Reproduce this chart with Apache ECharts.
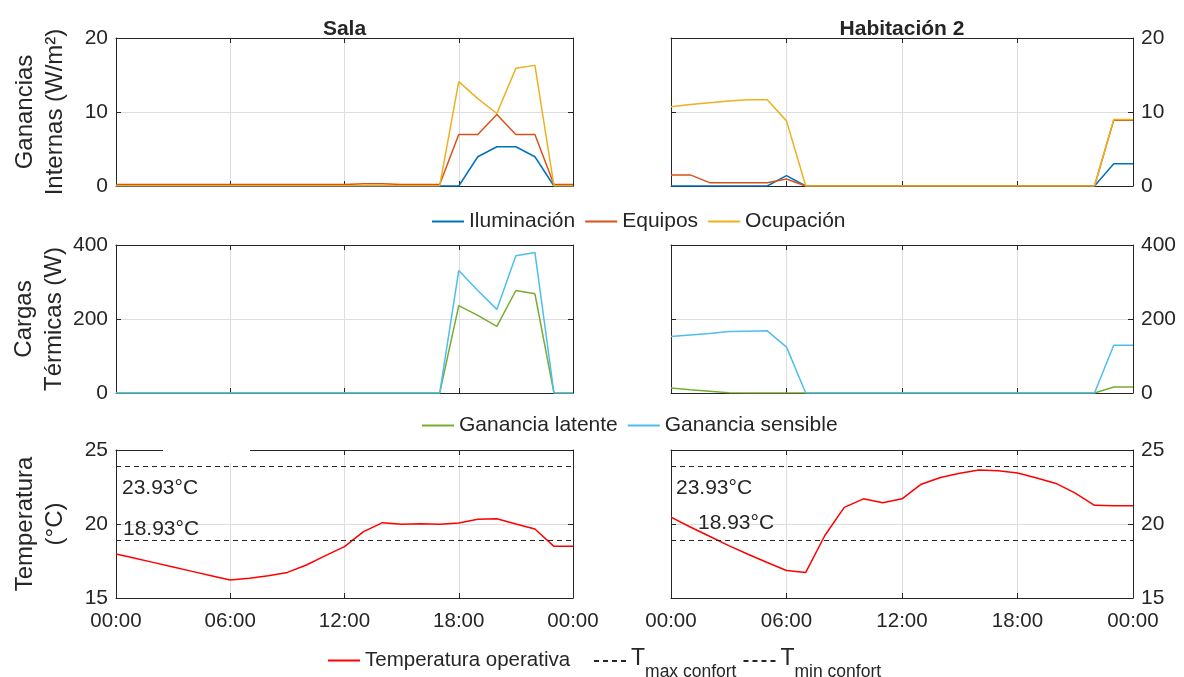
<!DOCTYPE html>
<html>
<head>
<meta charset="utf-8">
<script src="https://cdn.jsdelivr.net/npm/echarts@6/dist/echarts.min.js"></script>
<style>
html, body { margin: 0; padding: 0; background: #fff; }
#main { width: 1184px; height: 677px; }
</style>
</head>
<body>
<div id="main"></div>
<script>
// horas del día (0..24)
var hours = [0, 1, 2, 3, 4, 5, 6, 7, 8, 9, 10, 11, 12, 13, 14, 15, 16, 17, 18, 19, 20, 21, 22, 23, 24];
var hourTicks = ['00:00', '06:00', '12:00', '18:00', '00:00'];

// Sala - ganancias internas (W/m2)
var salaIlum = [0, 0, 0, 0, 0, 0, 0, 0, 0, 0, 0, 0, 0, 0, 0, 0, 0, 0, 0, 3.95, 5.3, 5.3, 3.95, 0, 0];
var salaEquipos = [0.2, 0.2, 0.2, 0.2, 0.2, 0.2, 0.2, 0.2, 0.2, 0.2, 0.2, 0.2, 0.2, 0.3, 0.3, 0.2, 0.2, 0.2, 6.95, 6.95, 9.65, 6.95, 6.95, 0.2, 0.2];
var salaOcup = [0.05, 0.05, 0.05, 0.05, 0.05, 0.05, 0.05, 0.05, 0.05, 0.05, 0.05, 0.05, 0.05, 0.05, 0.05, 0.05, 0.05, 0.05, 14.1, 11.8, 9.8, 15.9, 16.3, 0.05, 0.05];
// Habitación 2 - ganancias internas
var habIlum = [0, 0, 0, 0, 0, 0, 1.4, 0, 0, 0, 0, 0, 0, 0, 0, 0, 0, 0, 0, 0, 0, 0, 0, 3.0, 3.0];
var habEquipos = [1.5, 1.5, 0.45, 0.45, 0.45, 0.45, 0.95, 0, 0, 0, 0, 0, 0, 0, 0, 0, 0, 0, 0, 0, 0, 0, 0, 8.9, 8.9];
var habOcup = [10.7, 11.0, 11.25, 11.5, 11.65, 11.65, 8.8, 0, 0, 0, 0, 0, 0, 0, 0, 0, 0, 0, 0, 0, 0, 0, 0, 9.0, 9.0];

// cargas térmicas (W)
var salaLatente = [0, 0, 0, 0, 0, 0, 0, 0, 0, 0, 0, 0, 0, 0, 0, 0, 0, 0, 236, 210, 180, 277, 268, 0, 0];
var salaSensible = [0, 0, 0, 0, 0, 0, 0, 0, 0, 0, 0, 0, 0, 0, 0, 0, 0, 0, 331, 277, 226, 371, 380, 0, 0];
var habLatente = [13.5, 9, 5, 1, 0, 0, 0, 0, 0, 0, 0, 0, 0, 0, 0, 0, 0, 0, 0, 0, 0, 0, 0, 16, 16];
var habSensible = [153, 157, 161, 166, 167, 168, 124, 0, 0, 0, 0, 0, 0, 0, 0, 0, 0, 0, 0, 0, 0, 0, 0, 129, 129];

// temperatura operativa (°C)
var salaTemp = [17.97, 17.68, 17.39, 17.1, 16.8, 16.51, 16.22, 16.33, 16.5, 16.73, 17.23, 17.86, 18.47, 19.48, 20.09, 19.98, 20.02, 19.98, 20.07, 20.32, 20.36, 20.0, 19.66, 18.49, 18.49];
var habTemp = [20.47, 19.8, 19.17, 18.54, 17.96, 17.4, 16.86, 16.73, 19.24, 21.12, 21.7, 21.43, 21.7, 22.69, 23.14, 23.43, 23.65, 23.59, 23.45, 23.11, 22.74, 22.09, 21.26, 21.23, 21.23];

var tMax = 23.93;
var tMin = 18.93;

var chart = echarts.init(document.getElementById('main'));
var font = '"Liberation Sans", Arial, sans-serif';
var ink = '#262626';
var colors = {
    ilum: '#0072BD', equipos: '#D95319', ocup: '#EDB120',
    latente: '#77AC30', sensible: '#4DBEEE', temp: '#FF0000'
};

function pairs(vals) {
    return hours.map(function (h, i) { return [h, vals[i]]; });
}

var cols = [{ left: 116, width: 457, title: 'Sala' }, { left: 671, width: 462, title: 'Habitación 2' }];
var rows = [
    { top: 38, min: 0, max: 20, step: 10, name: 'Ganancias\nInternas (W/m²)' },
    { top: 245, min: 0, max: 400, step: 200, name: 'Cargas\nTérmicas (W)' },
    { top: 450, min: 15, max: 25, step: 5, name: 'Temperatura\n(°C)' }
];

var grid = [], xAxis = [], yAxis = [];
rows.forEach(function (r, ri) {
    cols.forEach(function (c, ci) {
        var g = grid.length;
        grid.push({ left: c.left, top: r.top, width: c.width, height: 148 });
        xAxis.push({
            gridIndex: g, type: 'value', min: 0, max: 24, interval: 6,
            axisLine: { show: true, onZero: false, lineStyle: { color: ink } },
            axisTick: { inside: true, length: 5, lineStyle: { color: ink } },
            axisLabel: {
                show: ri === 2, fontSize: 20.5, color: ink, fontFamily: font, margin: 13,
                formatter: function (v) { return hourTicks[v / 6]; }
            },
            splitLine: { show: true, lineStyle: { color: '#dedede' } }
        });
        xAxis.push({
            gridIndex: g, type: 'value', min: 0, max: 24, interval: 6, position: 'top',
            axisLine: { show: true, onZero: false, lineStyle: { color: ink } },
            axisTick: { inside: true, length: 5, lineStyle: { color: ink } },
            axisLabel: { show: false }, splitLine: { show: false },
            name: ri === 0 ? c.title : '', nameLocation: 'middle', nameGap: -2,
            nameTextStyle: { fontSize: 21, fontWeight: 'bold', color: ink, fontFamily: font }
        });
        yAxis.push({
            gridIndex: g, type: 'value', min: r.min, max: r.max, interval: r.step,
            position: ci === 0 ? 'left' : 'right',
            axisLine: { show: true, onZero: false, lineStyle: { color: ink } },
            axisTick: { inside: true, length: 5, lineStyle: { color: ink } },
            axisLabel: { fontSize: 21, color: ink, fontFamily: font, margin: 8 },
            splitLine: { show: true, lineStyle: { color: '#dedede' } },
            name: ci === 0 ? r.name : '', nameLocation: 'middle', nameGap: 46,
            nameTextStyle: { fontSize: 24, lineHeight: 30, color: ink, fontFamily: font }
        });
        yAxis.push({
            gridIndex: g, type: 'value', min: r.min, max: r.max, interval: r.step,
            position: ci === 0 ? 'right' : 'left',
            axisLine: { show: true, onZero: false, lineStyle: { color: ink } },
            axisTick: { inside: true, length: 5, lineStyle: { color: ink } },
            axisLabel: { show: false }, splitLine: { show: false }
        });
    });
});

function line(name, g, vals, color) {
    return {
        name: name, type: 'line', xAxisIndex: 2 * g, yAxisIndex: 2 * g,
        data: pairs(vals), symbol: 'none', silent: true,
        lineStyle: { color: color, width: 1.5 }, itemStyle: { color: color }
    };
}

var dash = [5, 4];
function limit(name, g, value, label) {
    return {
        name: name, type: 'line', xAxisIndex: 2 * g, yAxisIndex: 2 * g,
        data: [], symbol: 'none', silent: true,
        lineStyle: { color: ink, width: 1, type: dash }, itemStyle: { color: ink },
        markLine: {
            symbol: ['none', 'none'], silent: true, animation: false,
            lineStyle: { color: ink, width: 1, type: dash },
            label: Object.assign({
                show: true, color: ink, fontSize: 21, fontFamily: font,
                formatter: value.toFixed(2) + '°C'
            }, label),
            data: [{ yAxis: value }]
        }
    };
}

var series = [
    line('Iluminación', 0, salaIlum, colors.ilum),
    line('Equipos', 0, salaEquipos, colors.equipos),
    line('Ocupación', 0, salaOcup, colors.ocup),
    line('Iluminación', 1, habIlum, colors.ilum),
    line('Equipos', 1, habEquipos, colors.equipos),
    line('Ocupación', 1, habOcup, colors.ocup),
    line('Ganancia latente', 2, salaLatente, colors.latente),
    line('Ganancia sensible', 2, salaSensible, colors.sensible),
    line('Ganancia latente', 3, habLatente, colors.latente),
    line('Ganancia sensible', 3, habSensible, colors.sensible),
    line('Temperatura operativa', 4, salaTemp, colors.temp),
    line('Temperatura operativa', 5, habTemp, colors.temp),
    limit('Tmax confort', 4, tMax, { position: 'insideStartBottom', distance: [6, 12] }),
    limit('Tmin confort', 4, tMin, { position: 'insideStartTop', distance: [7, 0] }),
    limit('Tmax confort', 5, tMax, { position: 'insideStartBottom', distance: [5, 12] }),
    limit('Tmin confort', 5, tMin, { position: 'insideStartTop', distance: [27, 6] })
];

var legendText = { fontSize: 21, color: ink, fontFamily: font };
var legendBase = { itemWidth: 32, itemHeight: 14, itemStyle: { opacity: 0 }, textStyle: legendText };
var option = {
    animation: false,
    textStyle: { fontFamily: font },
    grid: grid,
    xAxis: xAxis,
    yAxis: yAxis,
    legend: [
        Object.assign({ data: ['Iluminación', 'Equipos', 'Ocupación'], left: 426, top: 206, itemGap: 9 }, legendBase),
        Object.assign({ data: ['Ganancia latente', 'Ganancia sensible'], left: 416, top: 410, itemGap: 9 }, legendBase),
        Object.assign({}, legendBase, {
            data: ['Temperatura operativa'], left: 322, top: 645,
            textStyle: { fontSize: 20.5, color: ink, fontFamily: font }
        }),
        Object.assign({}, legendBase, {
            data: ['Tmax confort', 'Tmin confort'], left: 588, top: 636, itemGap: 6,
            formatter: function (name) {
                return '{t|T}{s|' + name.slice(1) + '}';
            },
            textStyle: {
                fontSize: 20.5, color: ink, fontFamily: font,
                rich: {
                    t: { fontSize: 23, lineHeight: 23, color: ink, fontFamily: font, verticalAlign: 'top', padding: [6, 0, 0, 0] },
                    s: { fontSize: 17.5, color: ink, fontFamily: font, verticalAlign: 'bottom', padding: [22, 0, 0, 0] }
                }
            }
        })
    ],
    graphic: [
        { type: 'rect', z: 1, silent: true, shape: { x: 163, y: 447, width: 87, height: 16 }, style: { fill: '#fff' } }
    ],
    series: series
};
chart.setOption(option);
</script>
</body>
</html>
